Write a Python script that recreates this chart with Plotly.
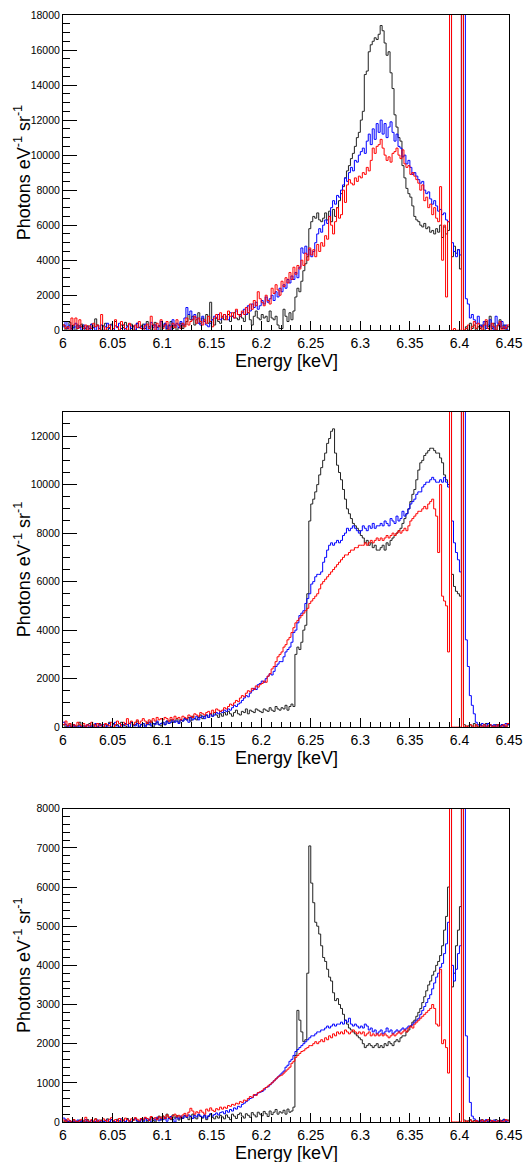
import plotly.graph_objects as go

# ---------------- binning ----------------
BIN_START = 6.0      # keV
BIN_WIDTH = 0.002    # keV
S = 60000            # off-scale line peaks (Fe Ka2 / Ka1)

# ---------------- panel 1 (0-18000) ----------------
p1_black = [
    300, 0, 200, 450, 100, 250, 0, 300, 150, 350,
    200, 0, 250, 100, 350, 150, 650, 300, 100, 0,
    250, 400, 0, 150, 350, 100, 500, 200, 0, 300,
    150, 450, 250, 0, 350, 200, 0, 400, 150, 250,
    350, 100, 500, 200, 0, 300, 450, 150, 250, 0,
    200, 350, 0, 250, 500, 100, 300, 0, 150, 400,
    100, 300, 500, 900, 600, 800, 300, 600, 1000, 400,
    700, 500, 900, 400, 1600, 600, 300, 700, 500, 400,
    800, 600, 700, 900, 500, 800, 1000, 700, 600, 900,
    700, 500, 900, 1000, 600, 300, 800, 1100, 700, 600,
    900, 700, 800, 500, 1100, 700, 600, 800, 300, 100,
    100, 1200, 800, 500, 1000, 600, 1100, 1900, 2400, 2200,
    2800, 3400, 3800, 4200, 5800, 6200, 6500, 6400, 6700, 6300,
    6200, 6400, 6700, 6300, 6800, 6200, 6900, 6500, 7000, 7400,
    7800, 8200, 8700, 9100, 9400, 9800, 10100, 10500, 11000, 11300,
    12000, 12500, 14600, 14800, 15900, 16300, 16500, 16700, 16600, 16900,
    17400, 17100, 16400, 15700, 15900, 14700, 13800, 12300, 11600, 11000,
    10800, 9400, 8700, 8100, 7800, 7600, 7100, 6500, 6300, 6200,
    6000, 5900, 6100, 5800, 5900, 5600, 5700, 5500, 5800, 5600,
    6000, 5300, 5900, 5500, 5700, S, 4200, 4800, 4400, 4600,
    3500, S, 0, 200, 0, 400, 100, 300, 0, 200,
    100, 300, 0, 500, 200, 800, 100, 400, 0, 300,
    600, 100, 300, 0, 200,
]
p1_blue = [
    200, 500, 100, 300, 0, 150, 400, 100, 250, 0,
    300, 100, 200, 0, 350, 150, 0, 250, 100, 300,
    0, 200, 400, 100, 300, 0, 250, 150, 400, 100,
    300, 0, 200, 350, 100, 250, 0, 400, 150, 200,
    100, 350, 0, 200, 450, 150, 300, 0, 250, 500,
    200, 400, 100, 300, 0, 600, 250, 400, 150, 500,
    300, 700, 1300, 900, 1100, 600, 900, 700, 400, 300,
    800, 500, 300, 200, 400, 600, 800, 700, 900, 600,
    700, 900, 800, 600, 1000, 800, 700, 1100, 900, 800,
    1000, 1200, 900, 1400, 1100, 1500, 1300, 1600, 1200, 1400,
    1700, 1500, 1900, 1600, 1800, 2000, 1700, 2200, 1900, 2400,
    2200, 2600, 2400, 2900, 2700, 3100, 2900, 3300, 3000, 3600,
    4700, 4400, 4800, 4300, 4600, 4200, 4500, 5000, 5500, 5800,
    5600, 6000, 6300, 6100, 6500, 7000, 7400, 7200, 7700, 7600,
    8000, 8300, 8700, 8500, 9000, 9300, 9100, 9700, 9600, 10000,
    10200, 10400, 10100, 10800, 11200, 10600, 11500, 10900, 11800, 11300,
    12000, 11200, 11800, 11000, 11600, 11900, 11300, 10800, 11200, 10500,
    10400, 9900, 10000, 9500, 9700, 9300, 8900, 9000, 8800, 8600,
    8400, 8500, 8000, 7800, 7900, 7500, 7200, 7400, 7100, 6800,
    6900, 6600, 6700, 6300, 6200, S, 5000, 4500, 4200, 4600,
    4300, S, S, 1800, 1500, 700, 900, 600, 400, 800,
    300, 200, 500, 100, 300, 600, 200, 0, 800, 400,
    200, 500, 100, 300, 0,
]
p1_red = [
    300, 100, 200, 0, 700, 300, 700, 100, 600, 200,
    100, 300, 0, 250, 100, 400, 200, 300, 0, 900,
    200, 0, 150, 300, 0, 100, 600, 200, 0, 500,
    300, 100, 0, 400, 250, 0, 300, 150, 500, 100,
    0, 250, 350, 100, 800, 300, 0, 400, 200, 600,
    100, 300, 500, 0, 200, 400, 150, 600, 300, 100,
    400, 200, 700, 300, 500, 600, 800, 400, 700, 500,
    300, 600, 400, 800, 500, 200, 700, 900, 600, 1000,
    700, 900, 600, 1100, 800, 1000, 700, 1200, 900, 800,
    1100, 900, 1300, 1000, 1500, 1200, 1700, 1400, 2200, 1800,
    1600, 1400, 2000, 1700, 1500, 2400, 2100, 2600, 2300, 2000,
    2800, 2500, 3000, 2700, 3300, 2900, 3600, 3200, 3700, 3500,
    4000, 3700, 4400, 4000, 4700, 4300, 4600, 4200, 4900, 4500,
    5000, 4800, 5400, 5200, 6500, 6000, 5500, 6200, 7000, 6400,
    6600, 8000, 7300, 8300, 8600, 8400, 8300, 8700, 8500, 8800,
    8700, 9000, 8900, 9300, 9100, 9700, 10400, 10100, 10500, 10600,
    10900, 10400, 10000, 9700, 9900, 9600, 10100, 10200, 10400, 10000,
    9800, 10300, 9500, 9300, 9400, 8900, 9000, 8800, 8600, 8400,
    8000, 8300, 7400, 7600, 7000, 7200, 6600, 7000, 6400, 6200,
    8200, 4000, 6000, 1900, 6200, S, 0, 100, 0, 0,
    0, S, 0, 100, 300, 0, 200, 500, 100, 400,
    200, 0, 300, 600, 100, 0, 400, 200, 0, 300,
    500, 0, 200, 100, 300,
]

# ---------------- panel 2 (0-13000) ----------------
p2_black = [
    100, 0, 50, 150, 0, 100, 0, 50, 200, 0,
    50, 0, 100, 150, 0, 50, 100, 0, 150, 50,
    0, 100, 50, 200, 0, 150, 50, 100, 0, 200,
    100, 50, 0, 150, 200, 50, 100, 250, 0, 100,
    150, 50, 200, 100, 250, 0, 150, 200, 100, 50,
    200, 100, 250, 150, 300, 200, 250, 350, 200, 300,
    250, 350, 300, 400, 250, 450, 350, 300, 400, 500,
    350, 450, 500, 400, 550, 450, 600, 500, 400, 550,
    450, 600, 500, 650, 550, 450, 600, 700, 550, 500,
    650, 600, 750, 550, 700, 650, 600, 750, 700, 650,
    600, 750, 700, 650, 800, 700, 650, 850, 750, 700,
    800, 750, 900, 700, 850, 950, 850, 3000, 3300, 3200,
    3500, 4000, 4200, 5500, 8500, 9200, 9400, 9700, 10000, 10400,
    10700, 11000, 11300, 11700, 11900, 12200, 12300, 11300, 10800, 10500,
    10200, 9800, 9400, 9000, 8800, 8600, 8400, 8300, 8200, 8100,
    7900, 7800, 7600, 7700, 7500, 7600, 7400, 7500, 7300, 7300,
    7400, 7500, 7300, 7600, 7500, 7700, 7800, 7900, 8000, 8100,
    8200, 8400, 8600, 8800, 9000, 9300, 9600, 9800, 10200, 10600,
    10900, 11000, 11200, 11300, 11400, 11500, 11500, 11400, 11300, 11300,
    11100, 10900, 10400, 10200, 10000, S, 6300, 5800, 5600, 5500,
    5400, S, 100, 0, 50, 100, 0, 150, 50, 0,
    100, 50, 0, 150, 0, 100, 50, 0, 100, 50,
    0, 100, 50, 0, 100,
]
p2_blue = [
    200, 100, 0, 50, 0, 100, 0, 0, 50, 0,
    0, 50, 100, 0, 50, 0, 150, 0, 100, 50,
    100, 0, 50, 150, 0, 100, 200, 50, 0, 100,
    50, 150, 100, 0, 200, 100, 50, 150, 0, 100,
    150, 0, 100, 200, 50, 150, 100, 250, 100, 150,
    200, 100, 250, 150, 200, 300, 200, 250, 150, 300,
    250, 350, 300, 200, 400, 300, 350, 450, 300, 400,
    450, 350, 500, 400, 550, 450, 500, 600, 550, 650,
    600, 700, 650, 750, 700, 800, 900, 850, 950, 1000,
    1100, 1200, 1300, 1250, 1400, 1500, 1600, 1550, 1750, 1800,
    1900, 1850, 2000, 2100, 2200, 2150, 2300, 2500, 2600, 2700,
    2700, 2900, 3100, 3200, 3300, 3500, 3900, 4000, 4300, 4600,
    4700, 4800, 5100, 5300, 5500, 5900, 6000, 6200, 6300, 6300,
    6400, 6800, 7000, 7300, 7500, 7600, 7500, 7600, 7700, 7600,
    7700, 7900, 8000, 8200, 8100, 8200, 8300, 8200, 8100, 8000,
    8100, 8300, 8200, 8100, 8300, 8200, 8400, 8200, 8300, 8300,
    8400, 8300, 8500, 8400, 8300, 8600, 8500, 8400, 8700, 8500,
    8600, 8900, 8700, 8800, 9000, 9200, 9300, 9400, 9600, 9700,
    9700, 9900, 10000, 10100, 10100, 10200, 10300, 10200, 10100, 10100,
    10200, 10100, 10300, 10100, 9900, S, 8500, 7600, 7200, 6900,
    6400, S, S, 3600, 2500, 1300, 900, 550, 200, 100,
    50, 150, 100, 0, 150, 100, 50, 100, 0, 100,
    50, 100, 0, 150, 100,
]
p2_red = [
    100, 250, 50, 150, 0, 100, 50, 200, 100, 50,
    150, 0, 100, 50, 200, 100, 0, 150, 50, 100,
    0, 150, 100, 50, 200, 0, 100, 250, 150, 50,
    200, 100, 350, 150, 250, 100, 200, 300, 150, 250,
    350, 250, 150, 300, 200, 350, 250, 400, 300, 350,
    300, 400, 350, 250, 400, 300, 450, 350, 400, 300,
    450, 400, 350, 500, 450, 400, 550, 500, 450, 600,
    550, 500, 600, 650, 550, 700, 600, 750, 700, 650,
    700, 800, 750, 850, 950, 900, 1000, 1100, 1050, 1200,
    1300, 1250, 1400, 1500, 1450, 1600, 1550, 1700, 1650, 1750,
    1800, 1900, 1850, 2100, 2200, 2400, 2500, 2700, 2900, 3000,
    3100, 3300, 3400, 3600, 3700, 3900, 4100, 4300, 4400, 4500,
    4600, 4700, 4800, 4900, 5100, 5200, 5300, 5400, 5500, 5700,
    5900, 6000, 6100, 6200, 6300, 6400, 6500, 6600, 6700, 6800,
    6900, 7000, 7100, 7100, 7200, 7300, 7300, 7400, 7400, 7500,
    7500, 7500, 7600, 7500, 7600, 7700, 7600, 7700, 7800, 7700,
    7800, 7700, 7800, 7900, 7800, 7900, 8000, 7900, 8000, 8100,
    8000, 8100, 8200, 8100, 8300, 8500, 8600, 8700, 8800, 8900,
    8900, 9000, 9100, 9000, 9200, 9300, 9400, 9000, 8700, 7200,
    10000, 5400, 5200, 5000, 3100, S, 0, 0, 0, 0,
    0, S, 0, 50, 0, 100, 50, 0, 100, 0,
    50, 0, 100, 0, 50, 100, 0, 50, 0, 100,
    0, 50, 100, 0, 150,
]

# ---------------- panel 3 (0-8000) ----------------
p3_black = [
    0, 50, 0, 30, 0, 60, 0, 20, 50, 0,
    30, 0, 60, 0, 40, 0, 80, 20, 0, 50,
    0, 40, 80, 0, 60, 20, 0, 70, 30, 0,
    50, 0, 90, 30, 0, 60, 100, 20, 0, 80,
    30, 100, 0, 60, 120, 40, 0, 90, 150, 50,
    150, 80, 200, 120, 60, 180, 100, 160, 50, 130,
    90, 170, 120, 60, 150, 200, 110, 80, 180, 140,
    100, 160, 60, 140, 200, 120, 80, 150, 100, 170,
    130, 80, 180, 120, 60, 200, 150, 90, 190, 230,
    150, 100, 210, 170, 120, 240, 180, 130, 250, 200,
    160, 270, 210, 140, 280, 190, 250, 320, 200, 260,
    230, 300, 200, 330, 250, 280, 380, 1700, 2850, 2600,
    2300, 2050, 2100, 3800, 7050, 6100, 5600, 5100, 5000, 4800,
    4500, 4200, 4100, 3900, 3700, 3600, 3300, 3100, 3150, 3000,
    2900, 2750, 2600, 2500, 2400, 2350, 2300, 2250, 2200, 2150,
    2100, 2000, 1900, 1950, 2000, 1950, 1900, 1950, 2000, 1900,
    1950, 1900, 2000, 1950, 2050, 2000, 1950, 2050, 2100, 2050,
    2150, 2200, 2200, 2300, 2350, 2450, 2550, 2600, 2700, 2800,
    2900, 3050, 3200, 3350, 3500, 3600, 3750, 3850, 4000, 4100,
    4250, 4500, 4900, 5250, 6000, S, 3450, 3800, 4500, 4900,
    5500, S, 50, 0, 30, 60, 0, 40, 20, 0,
    30, 60, 0, 40, 0, 50, 20, 0, 60, 30,
    0, 40, 70, 20, 50,
]
p3_blue = [
    100, 50, 0, 30, 0, 20, 0, 50, 0, 30,
    0, 60, 20, 0, 40, 0, 10, 50, 0, 30,
    20, 0, 50, 0, 60, 30, 0, 40, 0, 80,
    40, 0, 60, 20, 0, 50, 80, 30, 0, 60,
    0, 100, 40, 70, 0, 90, 50, 120, 30, 80,
    60, 110, 20, 90, 140, 70, 0, 120, 80, 150,
    100, 160, 120, 180, 140, 90, 170, 130, 200, 150,
    120, 180, 100, 160, 210, 150, 190, 230, 180, 240,
    260, 210, 290, 250, 320, 280, 360, 330, 400, 380,
    450, 480, 520, 560, 600, 620, 680, 700, 740, 760,
    780, 820, 880, 900, 950, 1000, 1050, 1100, 1150, 1200,
    1250, 1300, 1400, 1450, 1550, 1600, 1700, 1800, 1850, 1900,
    1950, 2000, 2050, 2100, 2150, 2200, 2200, 2250, 2300, 2300,
    2350, 2350, 2400, 2450, 2400, 2450, 2500, 2450, 2500, 2500,
    2550, 2500, 2600, 2550, 2650, 2500, 2450, 2500, 2450, 2400,
    2450, 2400, 2500, 2450, 2350, 2400, 2300, 2350, 2250, 2300,
    2350, 2250, 2300, 2400, 2300, 2350, 2250, 2300, 2350, 2300,
    2350, 2400, 2350, 2400, 2450, 2450, 2500, 2550, 2600, 2650,
    2750, 2850, 2950, 3050, 3150, 3250, 3400, 3550, 3700, 3800,
    3950, 4050, 4300, 4550, 5100, S, 4000, 3600, 3900, 4300,
    4500, S, S, 2200, 1150, 500, 150, 80, 40, 20,
    50, 0, 30, 60, 0, 40, 20, 50, 0, 30,
    40, 0, 60, 20, 30,
]
p3_red = [
    50, 0, 80, 30, 0, 60, 20, 0, 40, 70,
    0, 120, 30, 0, 60, 20, 80, 0, 50, 30,
    80, 40, 0, 70, 110, 30, 60, 0, 90, 50,
    30, 100, 60, 20, 80, 40, 110, 70, 30, 90,
    60, 120, 90, 40, 140, 80, 110, 60, 130, 100,
    150, 90, 180, 120, 80, 160, 200, 130, 170, 110,
    180, 220, 150, 250, 350, 280, 200, 260, 230, 300,
    250, 200, 330, 280, 360, 300, 270, 340, 310, 380,
    330, 380, 350, 420, 400, 450, 430, 480, 460, 520,
    500, 560, 540, 600, 650, 630, 700, 680, 750, 770,
    800, 850, 880, 920, 960, 1000, 1050, 1100, 1150, 1180,
    1200, 1250, 1300, 1350, 1400, 1500, 1550, 1650, 1700, 1750,
    1800, 1820, 1870, 1900, 1950, 1950, 2000, 2050, 2000, 2050,
    2100, 2050, 2150, 2100, 2200, 2150, 2250, 2200, 2300, 2250,
    2300, 2250, 2350, 2300, 2250, 2300, 2350, 2300, 2250, 2300,
    2250, 2300, 2200, 2250, 2300, 2200, 2250, 2200, 2250, 2200,
    2250, 2200, 2250, 2200, 2150, 2200, 2250, 2200, 2250, 2300,
    2250, 2300, 2350, 2300, 2400, 2450, 2400, 2500, 2550, 2600,
    2650, 2700, 2750, 2800, 2850, 2900, 3000, 2900, 2500, 2450,
    3900, 2000, 2100, 1900, 1250, S, 0, 0, 0, 0,
    0, S, 0, 30, 0, 50, 20, 0, 40, 0,
    20, 50, 0, 30, 60, 0, 40, 10, 0, 30,
    50, 0, 20, 60, 30,
]

# ---------------- axes ----------------
x_range = [6.0, 6.45]
x_tick_vals = [6.0, 6.05, 6.1, 6.15, 6.2, 6.25, 6.3, 6.35, 6.4, 6.45]
x_tick_labels = ["6", "6.05", "6.1", "6.15", "6.2", "6.25", "6.3", "6.35", "6.4", "6.45"]
y_ranges = [[0, 18000], [0, 13000], [0, 8000]]
y_major = [2000, 2000, 1000]
y_minor = [500, 500, 200]
x_title = "Energy [keV]"
y_title = "Photons eV<sup>-1</sup> sr<sup>-1</sup>"

panels = [
    (p1_black, p1_blue, p1_red),
    (p2_black, p2_blue, p2_red),
    (p3_black, p3_blue, p3_red),
]
colors = ["#222222", "#0000ff", "#ff0000"]
domains = [[0.7152, 1.0], [0.3567, 0.6415], [0.0, 0.2830]]

FONT = "Liberation Sans, Arial, Helvetica, sans-serif"

fig = go.Figure()


def step_xy(vals):
    edges = [BIN_START + BIN_WIDTH * i for i in range(len(vals) + 1)]
    return edges, list(vals) + [vals[-1]]


for k, series in enumerate(panels):
    xa = "x" if k == 0 else f"x{k+1}"
    ya = "y" if k == 0 else f"y{k+1}"
    for vals, col in zip(series, colors):
        xs, ys = step_xy(vals)
        fig.add_trace(go.Scatter(
            x=xs, y=ys, mode="lines", line=dict(color=col, width=1, shape="hv"),
            xaxis=xa, yaxis=ya, showlegend=False, hoverinfo="skip"))

layout = dict(
    width=532, height=1162,
    margin=dict(l=63, r=15, t=9, b=40),
    paper_bgcolor="white", plot_bgcolor="white",
    font=dict(family=FONT, color="black"),
    showlegend=False,
    annotations=[],
)

for k in range(3):
    xkey = "xaxis" if k == 0 else f"xaxis{k+1}"
    ykey = "yaxis" if k == 0 else f"yaxis{k+1}"
    anchor_y = "y" if k == 0 else f"y{k+1}"
    anchor_x = "x" if k == 0 else f"x{k+1}"
    layout[xkey] = dict(
        domain=[0, 1], anchor=anchor_y, range=x_range,
        tickmode="array", tickvals=x_tick_vals, ticktext=x_tick_labels,
        ticks="inside", ticklen=9, tickwidth=1, tickcolor="black",
        minor=dict(tickmode="linear", tick0=6.0, dtick=0.01, ticks="inside",
                   ticklen=5, tickwidth=1, tickcolor="black", showgrid=False),
        showline=True, linecolor="black", linewidth=1, mirror=True,
        showgrid=False, zeroline=False,
        tickfont=dict(family=FONT, size=14, color="black"),
    )
    layout[ykey] = dict(
        domain=domains[k], anchor=anchor_x, range=y_ranges[k],
        tickmode="linear", tick0=0, dtick=y_major[k], tickformat="d",
        ticks="inside", ticklen=14, tickwidth=1, tickcolor="black",
        minor=dict(tickmode="linear", tick0=0, dtick=y_minor[k], ticks="inside",
                   ticklen=7, tickwidth=1, tickcolor="black", showgrid=False),
        showline=True, linecolor="black", linewidth=1, mirror=True,
        showgrid=False, zeroline=False,
        tickfont=dict(family=FONT, size=10.5, color="black"),
    )
    d0, d1 = domains[k]
    layout["annotations"].append(dict(
        text=x_title, xref="paper", yref="paper", x=0.5, y=d0,
        xanchor="center", yanchor="top", yshift=-19, showarrow=False,
        font=dict(family=FONT, size=18, color="black")))
    layout["annotations"].append(dict(
        text=y_title, xref="paper", yref="paper", x=-0.0903, y=(d0 + d1) / 2,
        xanchor="center", yanchor="middle", textangle=-90, showarrow=False,
        font=dict(family=FONT, size=18, color="black")))

fig.update_layout(**layout)
fig.write_html(
    "out.html",
    config={"displayModeBar": False, "staticPlot": True},
    post_script="document.body.style.margin='0px';document.body.style.overflow='hidden';",
)
